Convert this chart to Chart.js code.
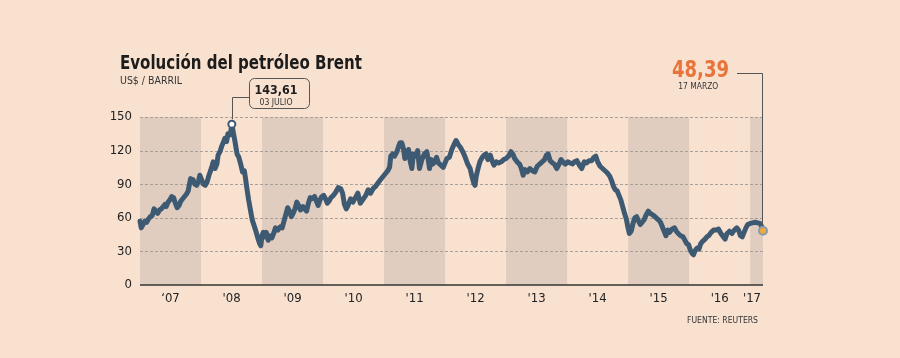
<!DOCTYPE html>
<html><head><meta charset="utf-8">
<script src="https://cdn.jsdelivr.net/npm/chart.js@4.4.1/dist/chart.umd.min.js"></script>
<style>html,body{margin:0;padding:0;background:#f9e1d0;}canvas{display:block}</style>
</head><body>
<canvas id="c" width="900" height="358"></canvas>
<script>
// ---- data ----
const dates = [
2007.00,2007.02,2007.05,2007.08,2007.11,2007.14,2007.17,2007.20,2007.23,2007.26,2007.29,2007.32,2007.35,2007.38,2007.41,2007.43,2007.46,2007.49,2007.52,2007.55,2007.58,2007.61,2007.64,2007.67,2007.70,2007.73,2007.76,2007.79,2007.81,2007.83,2007.85,2007.87,2007.90,2007.93,2007.96,2007.98,
2008.01,2008.04,2008.07,2008.10,2008.13,2008.15,2008.18,2008.20,2008.23,2008.26,2008.28,2008.31,2008.34,2008.37,2008.39,2008.42,2008.44,2008.47,2008.49,2008.505,2008.53,2008.56,2008.59,2008.62,2008.65,2008.68,2008.71,2008.73,2008.75,2008.78,2008.81,2008.84,2008.87,2008.90,2008.93,2008.96,2008.98,
2009.00,2009.02,2009.05,2009.07,2009.10,2009.13,2009.16,2009.19,2009.22,2009.26,2009.30,2009.33,2009.36,2009.39,2009.42,2009.45,2009.48,2009.51,2009.54,2009.57,2009.60,2009.63,2009.67,2009.70,2009.73,2009.76,2009.79,2009.82,2009.86,2009.89,2009.92,2009.95,2009.98,
2010.01,2010.04,2010.07,2010.10,2010.13,2010.17,2010.21,2010.25,2010.29,2010.32,2010.35,2010.38,2010.41,2010.45,2010.49,2010.53,2010.57,2010.61,2010.65,2010.70,2010.74,2010.78,2010.82,2010.86,2010.90,2010.94,2010.97,
2011.00,2011.03,2011.06,2011.09,2011.11,2011.14,2011.17,2011.21,2011.24,2011.26,2011.29,2011.32,2011.34,2011.37,2011.40,2011.43,2011.455,2011.48,2011.52,2011.55,2011.58,2011.62,2011.66,2011.70,2011.72,2011.745,2011.77,2011.80,2011.83,2011.86,2011.89,2011.93,2011.97,
2012.00,2012.03,2012.07,2012.11,2012.15,2012.18,2012.22,2012.25,2012.29,2012.33,2012.37,2012.41,2012.44,2012.47,2012.49,2012.51,2012.54,2012.57,2012.61,2012.64,2012.67,2012.70,2012.74,2012.77,2012.80,2012.84,2012.88,2012.92,2012.96,
2013.00,2013.04,2013.08,2013.11,2013.14,2013.18,2013.22,2013.25,2013.28,2013.31,2013.35,2013.39,2013.43,2013.47,2013.51,2013.55,2013.59,2013.63,2013.66,2013.69,2013.72,2013.76,2013.79,2013.83,2013.86,2013.90,2013.93,2013.97,
2014.01,2014.05,2014.09,2014.12,2014.16,2014.20,2014.24,2014.28,2014.32,2014.36,2014.40,2014.44,2014.47,2014.50,2014.54,2014.58,2014.62,2014.66,2014.70,2014.73,2014.76,2014.79,2014.82,2014.85,2014.88,2014.91,2014.94,2014.97,2014.99,
2015.02,2015.05,2015.08,2015.11,2015.14,2015.17,2015.20,2015.23,2015.26,2015.29,2015.33,2015.36,2015.39,2015.42,2015.46,2015.50,2015.53,2015.56,2015.59,2015.62,2015.65,2015.68,2015.72,2015.76,2015.79,2015.82,2015.86,2015.90,2015.93,2015.96,2015.99,
2016.02,2016.05,2016.07,2016.10,2016.13,2016.16,2016.19,2016.22,2016.26,2016.29,2016.32,2016.36,2016.40,2016.44,2016.48,2016.52,2016.56,2016.59,2016.62,2016.66,2016.70,2016.74,2016.78,2016.81,2016.84,2016.87,2016.90,2016.93,2016.96,
2017.00,2017.04,2017.08,2017.12,2017.16,2017.19,2017.21
];
const prices = [
57,51,54,57,56,59,61,62,68,66,64,67,68,70,72,70,74,76,79,78,73,69,71,75,77,79,81,84,90,95,92,94,90,89,93,98,
94,90,89,92,98,101,106,110,104,108,116,119,124,128,131,128,135,134,138,143.61,136,127,117,114,108,101,102,95,87,76,67,58,53,48,42,37,35,
44,47,43,47,40,44,42,46,51,49,52,51,57,63,69,66,61,64,68,74,71,67,70,68,66,73,78,77,79,75,71,76,79,
80,77,73,75,78,80,83,87,86,82,72,68,71,77,74,78,82,73,76,80,85,82,86,88,91,94,96,
98,100,102,105,115,117,115,119,124,127,127,121,113,116,121,110,104,117,115,120,104,112,117,119,113,104,112,108,110,114,109,107,105,
109,113,114,121,126,129,125,123,119,114,108,104,97,91,89,97,104,110,114,116,117,112,116,111,107,110,109,110,112,
113,115,119,117,113,110,108,104,98,103,101,104,102,101,106,108,110,112,116,117,111,109,108,104,107,112,110,108,
110,109,108,110,111,107,104,110,109,111,111,114,115,110,106,104,102,100,97,93,88,85,84,80,76,70,64,59,53,
46,48,55,60,61,57,54,56,58,62,66,64,63,62,60,58,56,52,48,44,49,47,50,51,48,46,44,43,40,37,36,
31,28,27,31,33,32,37,39,41,43,44,47,49,49,50,46,43,41,46,48,46,49,51,49,44,43,47,51,54,
55,55.5,56,55.5,55,52,48.39
];
const yTicks = [0, 30, 60, 90, 120, 150];
const xTickPos = [2007.5, 2008.5, 2009.5, 2010.5, 2011.5, 2012.5, 2013.5, 2014.5, 2015.5, 2016.5, 2017.03];
const xTickLabels = ["\u201807", "'08", "'09", "'10", "'11", "'12", "'13", "'14", "'15", "'16", "'17"];
const shadedYears = [2007, 2009, 2011, 2013, 2015, 2017];
const titleText = 'Evolución del petróleo Brent';
const subtitleText = 'US$ / BARRIL';
const sourceText = 'FUENTE: REUTERS';
const peakValueText = '143,61';
const peakDateText = '03 JULIO';
const lastValueText = '48,39';
const lastDateText = '17 MARZO';

// ---- styling ----
const BG = '#f9e1d0';
const BAND = '#e0cdc0';
const LINE = '#3e5a73';
const NARROW = "'Liberation Sans Narrow','DejaVu Sans Condensed','Roboto Condensed',Roboto,sans-serif";
const COND = "'DejaVu Sans Condensed','DejaVu Sans',sans-serif";
const X_MIN = 2007, X_MAX = 2017.21;

let peakIdx = 0;
prices.forEach((v, i) => { if (v > prices[peakIdx]) peakIdx = i; });
const lastIdx = prices.length - 1;

function fitText(ctx, text, x, y, font, color, width, align) {
  ctx.save();
  ctx.font = font; ctx.fillStyle = color; ctx.textBaseline = 'alphabetic';
  ctx.textAlign = align || 'left';
  const w = ctx.measureText(text).width;
  const s = width ? width / w : 1;
  ctx.translate(x, y); ctx.scale(s, 1);
  ctx.fillText(text, 0, 0);
  ctx.restore();
}

const decor = {
  id: 'decor',
  beforeDraw(chart) {
    const c = chart.ctx;
    c.save(); c.fillStyle = BG; c.fillRect(0, 0, chart.width, chart.height); c.restore();
  },
  beforeDatasetsDraw(chart) {
    const c = chart.ctx, a = chart.chartArea, xs = chart.scales.x, ys = chart.scales.y;
    c.save();
    c.fillStyle = BAND;
    shadedYears.forEach(yr => {
      const x0 = Math.max(a.left, xs.getPixelForValue(yr));
      const x1 = Math.min(a.right, xs.getPixelForValue(yr + 1));
      if (x1 > x0) c.fillRect(x0, a.top, x1 - x0, a.bottom - a.top);
    });
    c.strokeStyle = '#a89f99'; c.lineWidth = 1; c.setLineDash([3, 2]);
    yTicks.forEach(v => {
      if (v === 0) return;
      const y = Math.round(ys.getPixelForValue(v)) + 0.5;
      c.beginPath(); c.moveTo(a.left, y); c.lineTo(a.right, y); c.stroke();
    });
    c.setLineDash([]);
    c.strokeStyle = '#333'; c.lineWidth = 1.5;
    const y0 = ys.getPixelForValue(0);
    c.beginPath(); c.moveTo(a.left, y0); c.lineTo(a.right, y0); c.stroke();
    c.restore();
  },
  afterDraw(chart) {
    const c = chart.ctx, xs = chart.scales.x, ys = chart.scales.y;
    fitText(c, titleText, 120, 69.3, "bold 19px " + COND, '#1c1c1c', 242, 'left');
    fitText(c, subtitleText, 120, 83.8, "10px " + COND, '#333', 62, 'left');
    fitText(c, sourceText, 758, 322.5, "8.5px " + COND, '#333', 71, 'right');

    // peak annotation
    const px = Math.round(xs.getPixelForValue(dates[peakIdx])) + 0.5;
    const py = ys.getPixelForValue(prices[peakIdx]);
    c.save();
    c.strokeStyle = '#555'; c.lineWidth = 1;
    c.beginPath();
    c.roundRect(249.5, 78.5, 60, 30, 5);
    c.stroke();
    c.beginPath(); c.moveTo(249.5, 97.5); c.lineTo(px, 97.5); c.lineTo(px, py - 5); c.stroke();
    c.restore();
    fitText(c, peakValueText, 276, 94, "bold 13px " + COND, '#1c1c1c', 43, 'center');
    fitText(c, peakDateText, 276, 105, "8.5px " + COND, '#333', 33, 'center');

    // last annotation
    const lx = Math.round(xs.getPixelForValue(dates[lastIdx])) - 0.5;
    const ly = ys.getPixelForValue(prices[lastIdx]);
    c.save();
    c.strokeStyle = '#555'; c.lineWidth = 1;
    c.beginPath(); c.moveTo(737, 73.5); c.lineTo(lx, 73.5); c.lineTo(lx, ly - 5); c.stroke();
    c.restore();
    fitText(c, lastValueText, 700.5, 77, "bold 23px " + COND, '#e8743b', 57, 'center');
    fitText(c, lastDateText, 698.3, 89, "9px " + COND, '#333', 40, 'center');
  }
};

new Chart(document.getElementById('c'), {
  type: 'line',
  data: {
    datasets: [{
      data: dates.map((d, i) => ({ x: d, y: prices[i] })),
      borderColor: LINE,
      borderWidth: 5,
      borderJoinStyle: 'round',
      borderCapStyle: 'round',
      tension: 0,
      fill: false,
      clip: false,
      pointRadius: ctx => ctx.dataIndex === peakIdx ? 3.5 : (ctx.dataIndex === lastIdx ? 4 : 0),
      pointBorderWidth: 2,
      pointBackgroundColor: ctx => ctx.dataIndex === lastIdx ? '#f0aa35' : '#ffffff',
      pointBorderColor: ctx => ctx.dataIndex === lastIdx ? '#8a9bb0' : LINE,
      pointHoverRadius: 0
    }]
  },
  options: {
    responsive: false,
    devicePixelRatio: 1,
    animation: false,
    events: [],
    layout: { padding: { left: 0, right: 137, top: 117, bottom: 0 } },
    plugins: { legend: { display: false }, tooltip: { enabled: false }, title: { display: false } },
    scales: {
      x: {
        type: 'linear', min: X_MIN, max: X_MAX,
        grid: { display: false, drawTicks: false },
        border: { display: false },
        afterBuildTicks: s => { s.ticks = xTickPos.map(v => ({ value: v })); },
        afterFit: s => { s.height = 73; },
        ticks: {
          autoSkip: false, maxRotation: 0, padding: 6,
          color: '#222', font: { family: NARROW, size: 13 },
          callback: (v, i) => xTickLabels[i]
        }
      },
      y: {
        min: 0, max: 150,
        grid: { display: false, drawTicks: false },
        border: { display: false },
        afterBuildTicks: s => { s.ticks = yTicks.map(v => ({ value: v })); },
        afterFit: s => { s.width = 140; },
        ticks: { padding: 8, color: '#222', font: { family: NARROW, size: 13 } }
      }
    }
  },
  plugins: [decor]
});
</script>
</body></html>
